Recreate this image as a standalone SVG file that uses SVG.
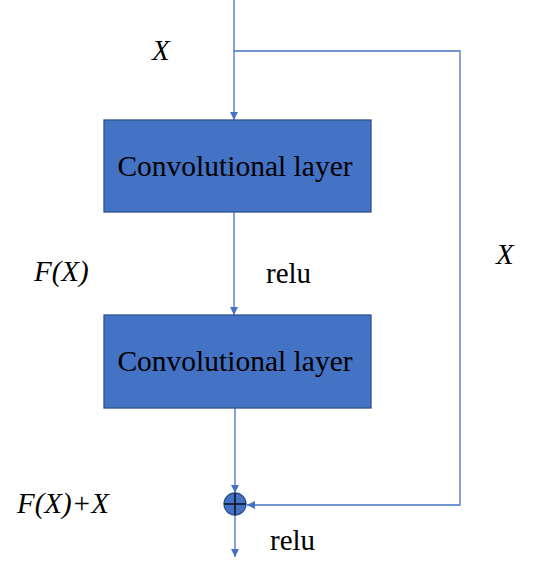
<svg xmlns="http://www.w3.org/2000/svg" width="542" height="574" viewBox="0 0 542 574">
<style>
.box{fill:#4472C4;stroke:#2F528F;stroke-width:1.3}
.ln{fill:none;stroke:#4472C4;stroke-width:1.3}
text{font-family:'Liberation Serif','Times New Roman','DejaVu Serif',serif;fill:#000}
.i{font-style:italic}
.bt{font-size:29.5px;text-anchor:middle}
.lb{font-size:29px}
</style>
<defs>
<marker id="ah" viewBox="0 0 10 10" refX="10" refY="5" markerWidth="8" markerHeight="8" markerUnits="userSpaceOnUse" orient="auto">
<path d="M0,0 L10,5 L0,10 Z" fill="#4472C4"/>
</marker>
</defs>
<g id="connectors">
<line class="ln" x1="234" y1="0" x2="234" y2="120" marker-end="url(#ah)"/>
<polyline class="ln" points="234,51 460,51 460,505 247,505" marker-end="url(#ah)"/>
<line class="ln" x1="234" y1="212" x2="234" y2="315" marker-end="url(#ah)"/>
<line class="ln" x1="235" y1="408" x2="235" y2="493" marker-end="url(#ah)"/>
<line class="ln" x1="235" y1="515" x2="235" y2="557" marker-end="url(#ah)"/>
</g>
<g id="conv1">
<rect class="box" x="104" y="120" width="267" height="92"/>
<text class="bt" x="235" y="176">Convolutional layer</text>
</g>
<g id="conv2">
<rect class="box" x="104" y="315" width="267" height="93"/>
<text class="bt" x="235" y="371">Convolutional layer</text>
</g>
<g id="add">
<circle cx="235" cy="504" r="11" fill="#4472C4" stroke="#2F528F" stroke-width="1.3"/>
<line x1="224" y1="504" x2="246" y2="504" stroke="#000" stroke-width="1.3"/>
<line x1="235" y1="493" x2="235" y2="515" stroke="#000" stroke-width="1.3"/>
</g>
<g id="labels">
<text class="i lb" x="152" y="60">X</text>
<text class="i lb" x="34" y="281">F(X)</text>
<text class="lb" x="266" y="283">relu</text>
<text class="i lb" x="496" y="264">X</text>
<text class="i lb" x="17" y="513">F(X)+X</text>
<text class="lb" x="270" y="550">relu</text>
</g>
</svg>
